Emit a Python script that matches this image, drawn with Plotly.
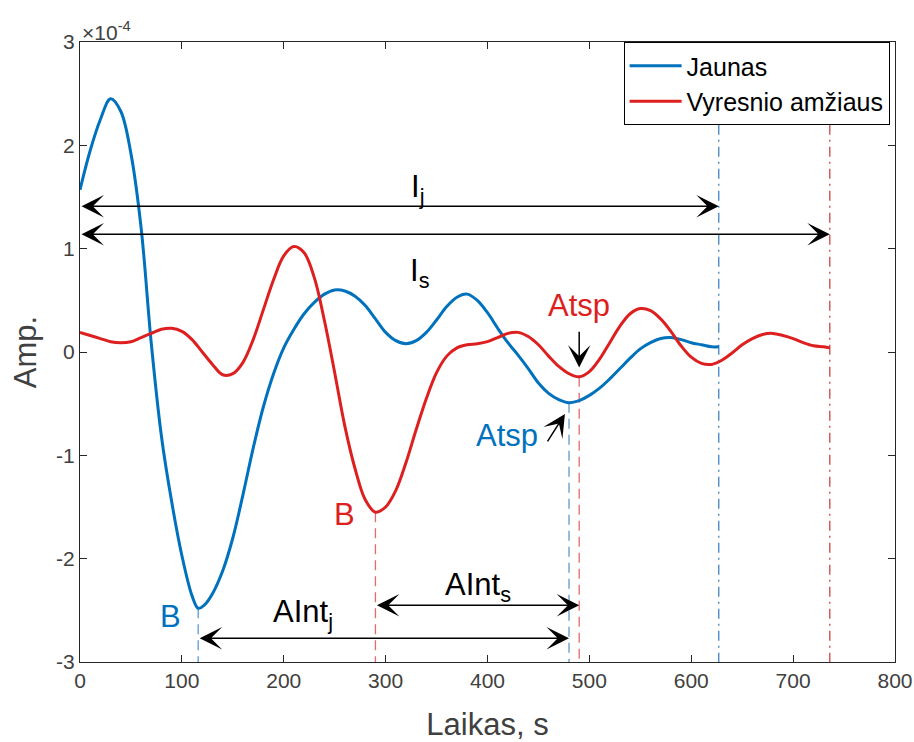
import numpy as np
import plotly.graph_objects as go

# Amplitude in units of 1e-4, time in seconds
t_jaunas = [0, 10, 20, 30, 40, 50, 60, 70, 80, 90, 100, 110, 116, 122, 130, 140,
            150, 160, 170, 180, 190, 200, 210, 220, 230, 240, 250, 260, 270, 280,
            290, 300, 310, 320, 330, 340, 350, 360, 370, 380, 390, 400, 410, 420,
            430, 440, 450, 460, 470, 480, 490, 500, 510, 520, 530, 540, 550, 560,
            570, 580, 590, 600, 610, 620, 627]
a_jaunas = [1.57, 1.95, 2.25, 2.45, 2.33, 1.92, 1.2, 0.08, -0.82, -1.45, -1.97,
            -2.36, -2.48, -2.45, -2.34, -2.12, -1.8, -1.38, -0.93, -0.53, -0.21,
            0.04, 0.22, 0.37, 0.48, 0.56, 0.6, 0.59, 0.54, 0.45, 0.32, 0.19, 0.11,
            0.08, 0.11, 0.19, 0.31, 0.44, 0.53, 0.56, 0.5, 0.38, 0.23, 0.09, -0.03,
            -0.16, -0.3, -0.4, -0.46, -0.49, -0.47, -0.42, -0.35, -0.26, -0.16,
            -0.06, 0.03, 0.09, 0.13, 0.14, 0.12, 0.09, 0.07, 0.05, 0.05]

t_vyr = [0, 10, 20, 30, 40, 50, 60, 70, 80, 90, 100, 110, 120, 130, 140, 150,
         160, 170, 180, 190, 200, 210, 220, 230, 240, 250, 260, 270, 280, 290,
         300, 310, 320, 330, 340, 350, 360, 370, 380, 390, 400, 410, 420, 430,
         440, 450, 460, 470, 480, 490, 500, 510, 520, 530, 540, 550, 560, 570,
         580, 590, 600, 610, 620, 630, 640, 650, 660, 670, 680, 690, 700, 710,
         720, 730, 736]
a_vyr = [0.19, 0.16, 0.13, 0.1, 0.09, 0.1, 0.14, 0.18, 0.22, 0.23, 0.2, 0.12, 0.0,
         -0.12, -0.22, -0.21, -0.1, 0.12, 0.41, 0.7, 0.93, 1.02, 0.96, 0.72, 0.3,
         -0.2, -0.72, -1.13, -1.43, -1.55, -1.5, -1.34, -1.07, -0.75, -0.45, -0.2,
         -0.04, 0.04, 0.07, 0.08, 0.1, 0.14, 0.18, 0.19, 0.15, 0.07, -0.04, -0.14,
         -0.21, -0.24, -0.19, -0.07, 0.09, 0.25, 0.37, 0.42, 0.4, 0.32, 0.2, 0.06,
         -0.05, -0.11, -0.12, -0.08, -0.01, 0.07, 0.13, 0.17, 0.18, 0.16, 0.13,
         0.09, 0.06, 0.05, 0.04]

x_ticks = [0, 100, 200, 300, 400, 500, 600, 700, 800]
y_ticks = [-3, -2, -1, 0, 1, 2, 3]
y_ticktext = ["-3", "-2", "-1", "0", "1", "2", "3"]

BLUE = "#0072BD"
RED = "#DD1F1F"
FONT = "Liberation Sans, Arial, sans-serif"
AXC = "#262626"

tj, aj = np.array(t_jaunas), np.array(a_jaunas)
tv, av = np.array(t_vyr), np.array(a_vyr)

# characteristic points: global minimum (B) and the late local minimum (Atsp)
ib_j = int(np.argmin(aj)); ib_v = int(np.argmin(av))
mj = tj > 420; ia_j = int(np.where(mj)[0][np.argmin(aj[mj])])
mv = (tv > 440) & (tv < 540); ia_v = int(np.where(mv)[0][np.argmin(av[mv])])
bj = (tj[ib_j], aj[ib_j]); bv = (tv[ib_v], av[ib_v])
sj = (tj[ia_j], aj[ia_j]); sv = (tv[ia_v], av[ia_v])
end_j = tj[-1]; end_v = tv[-1]

fig = go.Figure()
fig.add_trace(go.Scatter(x=t_jaunas, y=a_jaunas, mode="lines", name="Jaunas",
                         line=dict(color=BLUE, width=3, shape="spline", smoothing=1.0)))
fig.add_trace(go.Scatter(x=t_vyr, y=a_vyr, mode="lines", name="Vyresnio amžiaus",
                         line=dict(color=RED, width=3, shape="spline", smoothing=1.0)))

shapes = []
def vline(x, y0, y1, color, dash):
    shapes.append(dict(type="line", xref="x", yref="y", x0=x, x1=x, y0=y0, y1=y1,
                       line=dict(color=color, width=1.3, dash=dash), layer="below"))

vline(bj[0], bj[1], -3, "#5A9BD0", "10px,6px")
vline(bv[0], bv[1], -3, "#E56A6A", "10px,6px")
vline(sj[0], sj[1], -3, "#5A9BD0", "10px,6px")
vline(sv[0], sv[1], -3, "#E56A6A", "10px,6px")
vline(end_j, 2.2, -3, "#3F84C0", "10px,5px,2px,5px")
vline(end_v, 2.2, -3, "#C84545", "10px,5px,2px,5px")

ann = []
def arrow(x0, y0, x1, y1, both=True):
    ann.append(dict(x=x1, y=y1, ax=x0, ay=y0, xref="x", yref="y", axref="x", ayref="y",
                    text="", showarrow=True, arrowcolor="black", arrowwidth=1.5,
                    arrowhead=3, arrowsize=2.5, startarrowhead=3, startarrowsize=2.5,
                    arrowside="end+start" if both else "end", standoff=0, startstandoff=0))

def label(x, y, text, color="black", size=31):
    ann.append(dict(x=x, y=y, xref="x", yref="y", text=text, showarrow=False,
                    font=dict(family=FONT, size=size, color=color),
                    xanchor="center", yanchor="middle"))

arrow(0, 1.41, end_j, 1.41)
arrow(0, 1.14, end_v, 1.14)
arrow(bj[0], -2.77, sj[0], -2.77)
arrow(bv[0], -2.45, sv[0], -2.45)
arrow(sv[0], 0.21, sv[0], -0.15, both=False)
arrow(458, -0.88, 476, -0.6, both=False)

label(331, 1.58, "I<sub>j</sub>")
label(334, 0.76, "I<sub>s</sub>")
label(219, -2.54, "AInt<sub>j</sub>")
label(391, -2.27, "AInt<sub>s</sub>")
label(89, -2.56, "B", BLUE)
label(260, -1.57, "B", RED)
label(490, 0.45, "Atsp", RED)
label(419, -0.81, "Atsp", BLUE)

ann.append(dict(x=0, y=1, xref="paper", yref="paper", text="×10<sup>-4</sup>",
                showarrow=False, xanchor="left", yanchor="bottom", yshift=-4,
                font=dict(family=FONT, size=21, color="#404040")))

axis_common = dict(showline=True, linecolor=AXC, linewidth=1, mirror="ticks",
                   ticks="inside", ticklen=7, tickcolor=AXC, showgrid=False,
                   zeroline=False, tickfont=dict(family=FONT, size=21, color="#404040"))

fig.update_layout(
    width=914, height=742,
    margin=dict(l=80, r=19, t=42, b=80, autoexpand=False),
    paper_bgcolor="white", plot_bgcolor="white",
    xaxis=dict(range=[0, 800], tickvals=x_ticks, **axis_common,
               title=dict(text="Laikas, s", standoff=25,
                          font=dict(family=FONT, size=31, color="#404040"))),
    yaxis=dict(range=[-3, 3], tickvals=y_ticks, ticktext=y_ticktext, **axis_common,
               title=dict(text="Amp.", standoff=10,
                          font=dict(family=FONT, size=31, color="#404040"))),
    legend=dict(x=0.667, y=1, xanchor="left", yanchor="top", bgcolor="white",
                bordercolor="black", borderwidth=1, tracegroupgap=0, itemwidth=52,
                font=dict(family=FONT, size=25, color="black")),
    shapes=shapes, annotations=ann, showlegend=True,
)

fig.write_html("out.html")
